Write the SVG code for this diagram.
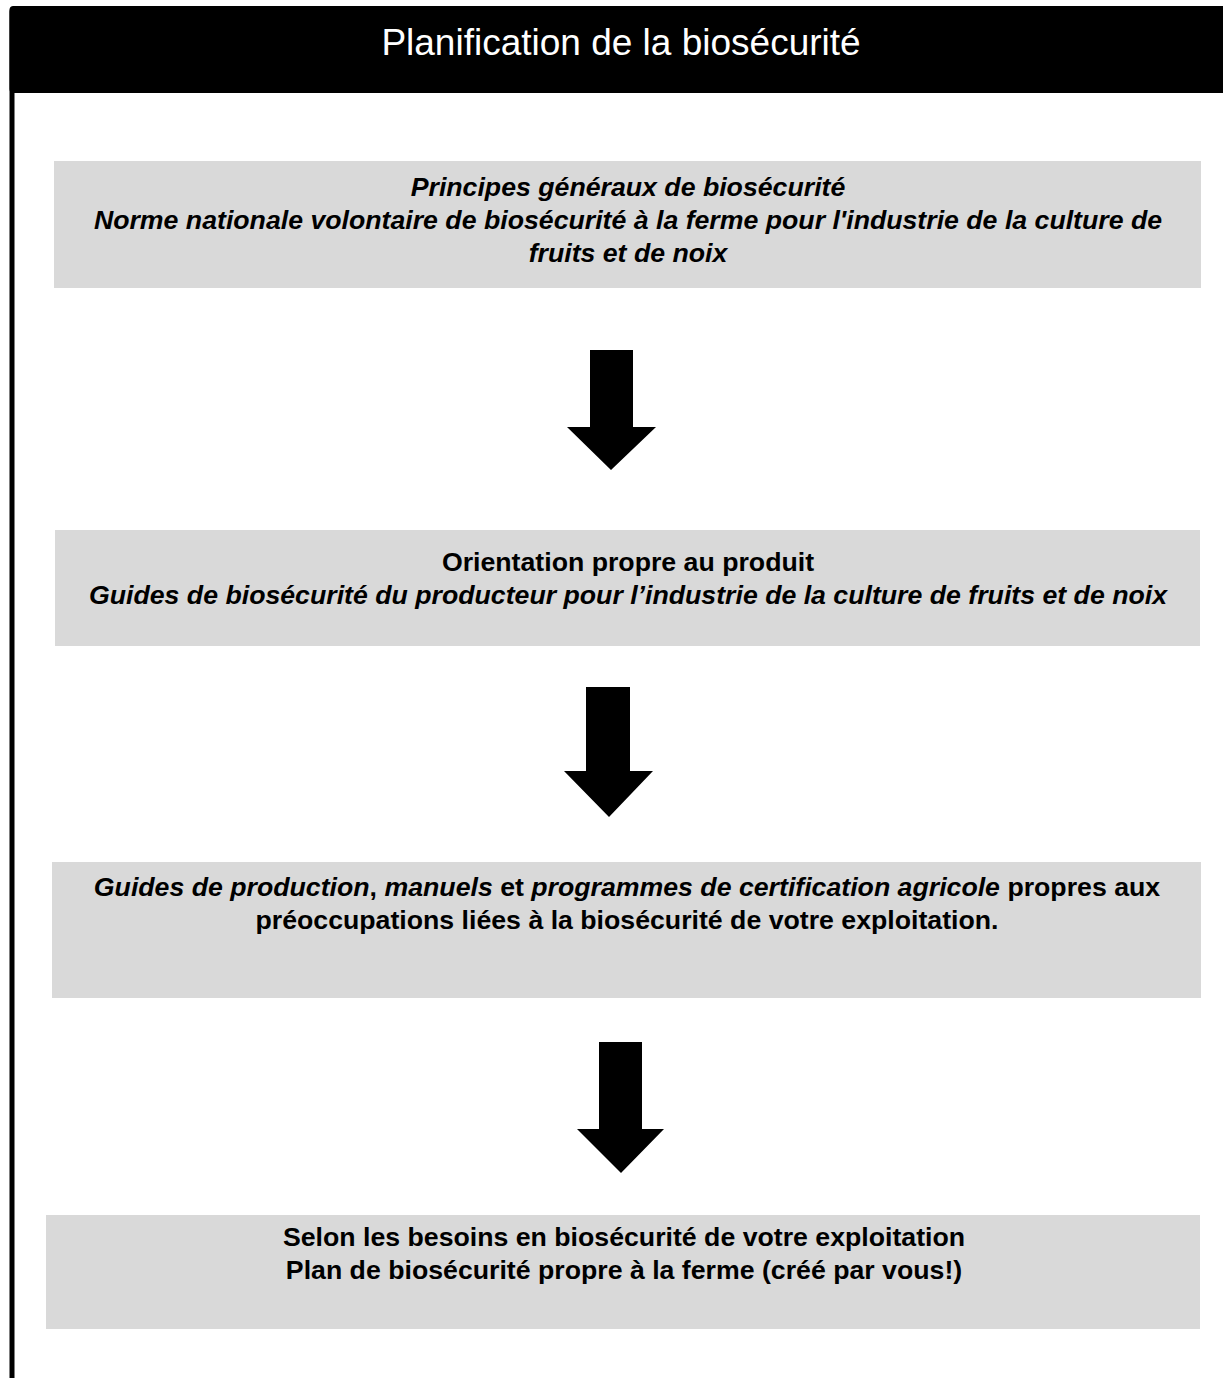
<svg xmlns="http://www.w3.org/2000/svg" width="1223" height="1378" viewBox="0 0 1223 1378">
<style>
.box{fill:#d9d9d9}
.t{font-family:"Liberation Sans",Arial,Helvetica,sans-serif;font-size:26.7px;font-weight:bold;fill:#000;text-anchor:middle}
.i{font-style:italic}
.title{font-family:"Liberation Sans",Arial,Helvetica,sans-serif;font-size:37px;fill:#fff;text-anchor:middle}
.arrow{fill:#000}
</style>
<rect width="1223" height="1378" fill="#fff"/>
<g id="frame">
<rect x="12" y="8.5" width="1240" height="1400" rx="3" fill="none" stroke="#000" stroke-width="5"/>
<rect x="9.5" y="6" width="1250" height="87" rx="4" fill="#000"/>
<text class="title" x="621" y="55">Planification de la biosécurité</text>
</g>
<g id="node1">
<rect class="box" x="54" y="161" width="1147" height="127"/>
<text class="t i" x="628" y="196">Principes généraux de biosécurité</text>
<text class="t i" x="628" y="229">Norme nationale volontaire de biosécurité à la ferme pour l'industrie de la culture de</text>
<text class="t i" x="628" y="262">fruits et de noix</text>
</g>
<g id="node2">
<rect class="box" x="55" y="530" width="1145" height="116"/>
<text class="t" x="628" y="571">Orientation propre au produit</text>
<text class="t i" x="628" y="604">Guides de biosécurité du producteur pour l’industrie de la culture de fruits et de noix</text>
</g>
<g id="node3">
<rect class="box" x="52" y="862" width="1149" height="136"/>
<text class="t" x="627" y="896"><tspan class="i">Guides de production</tspan>, <tspan class="i">manuels</tspan> et <tspan class="i">programmes de certification agricole</tspan> propres aux</text>
<text class="t" x="627" y="929">préoccupations liées à la biosécurité de votre exploitation.</text>
</g>
<g id="node4">
<rect class="box" x="46" y="1215" width="1154" height="114"/>
<text class="t" x="624" y="1246">Selon les besoins en biosécurité de votre exploitation</text>
<text class="t" x="624" y="1279">Plan de biosécurité propre à la ferme (créé par vous!)</text>
</g>
<g id="connectors">
<polygon class="arrow" points="590,350 633,350 633,427 656,427 611,470 567,427 590,427"/>
<polygon class="arrow" points="586,687 630,687 630,771 653,771 609,817 564,771 586,771"/>
<polygon class="arrow" points="599,1042 642,1042 642,1129 664,1129 621,1173 577,1129 599,1129"/>
</g>
</svg>
